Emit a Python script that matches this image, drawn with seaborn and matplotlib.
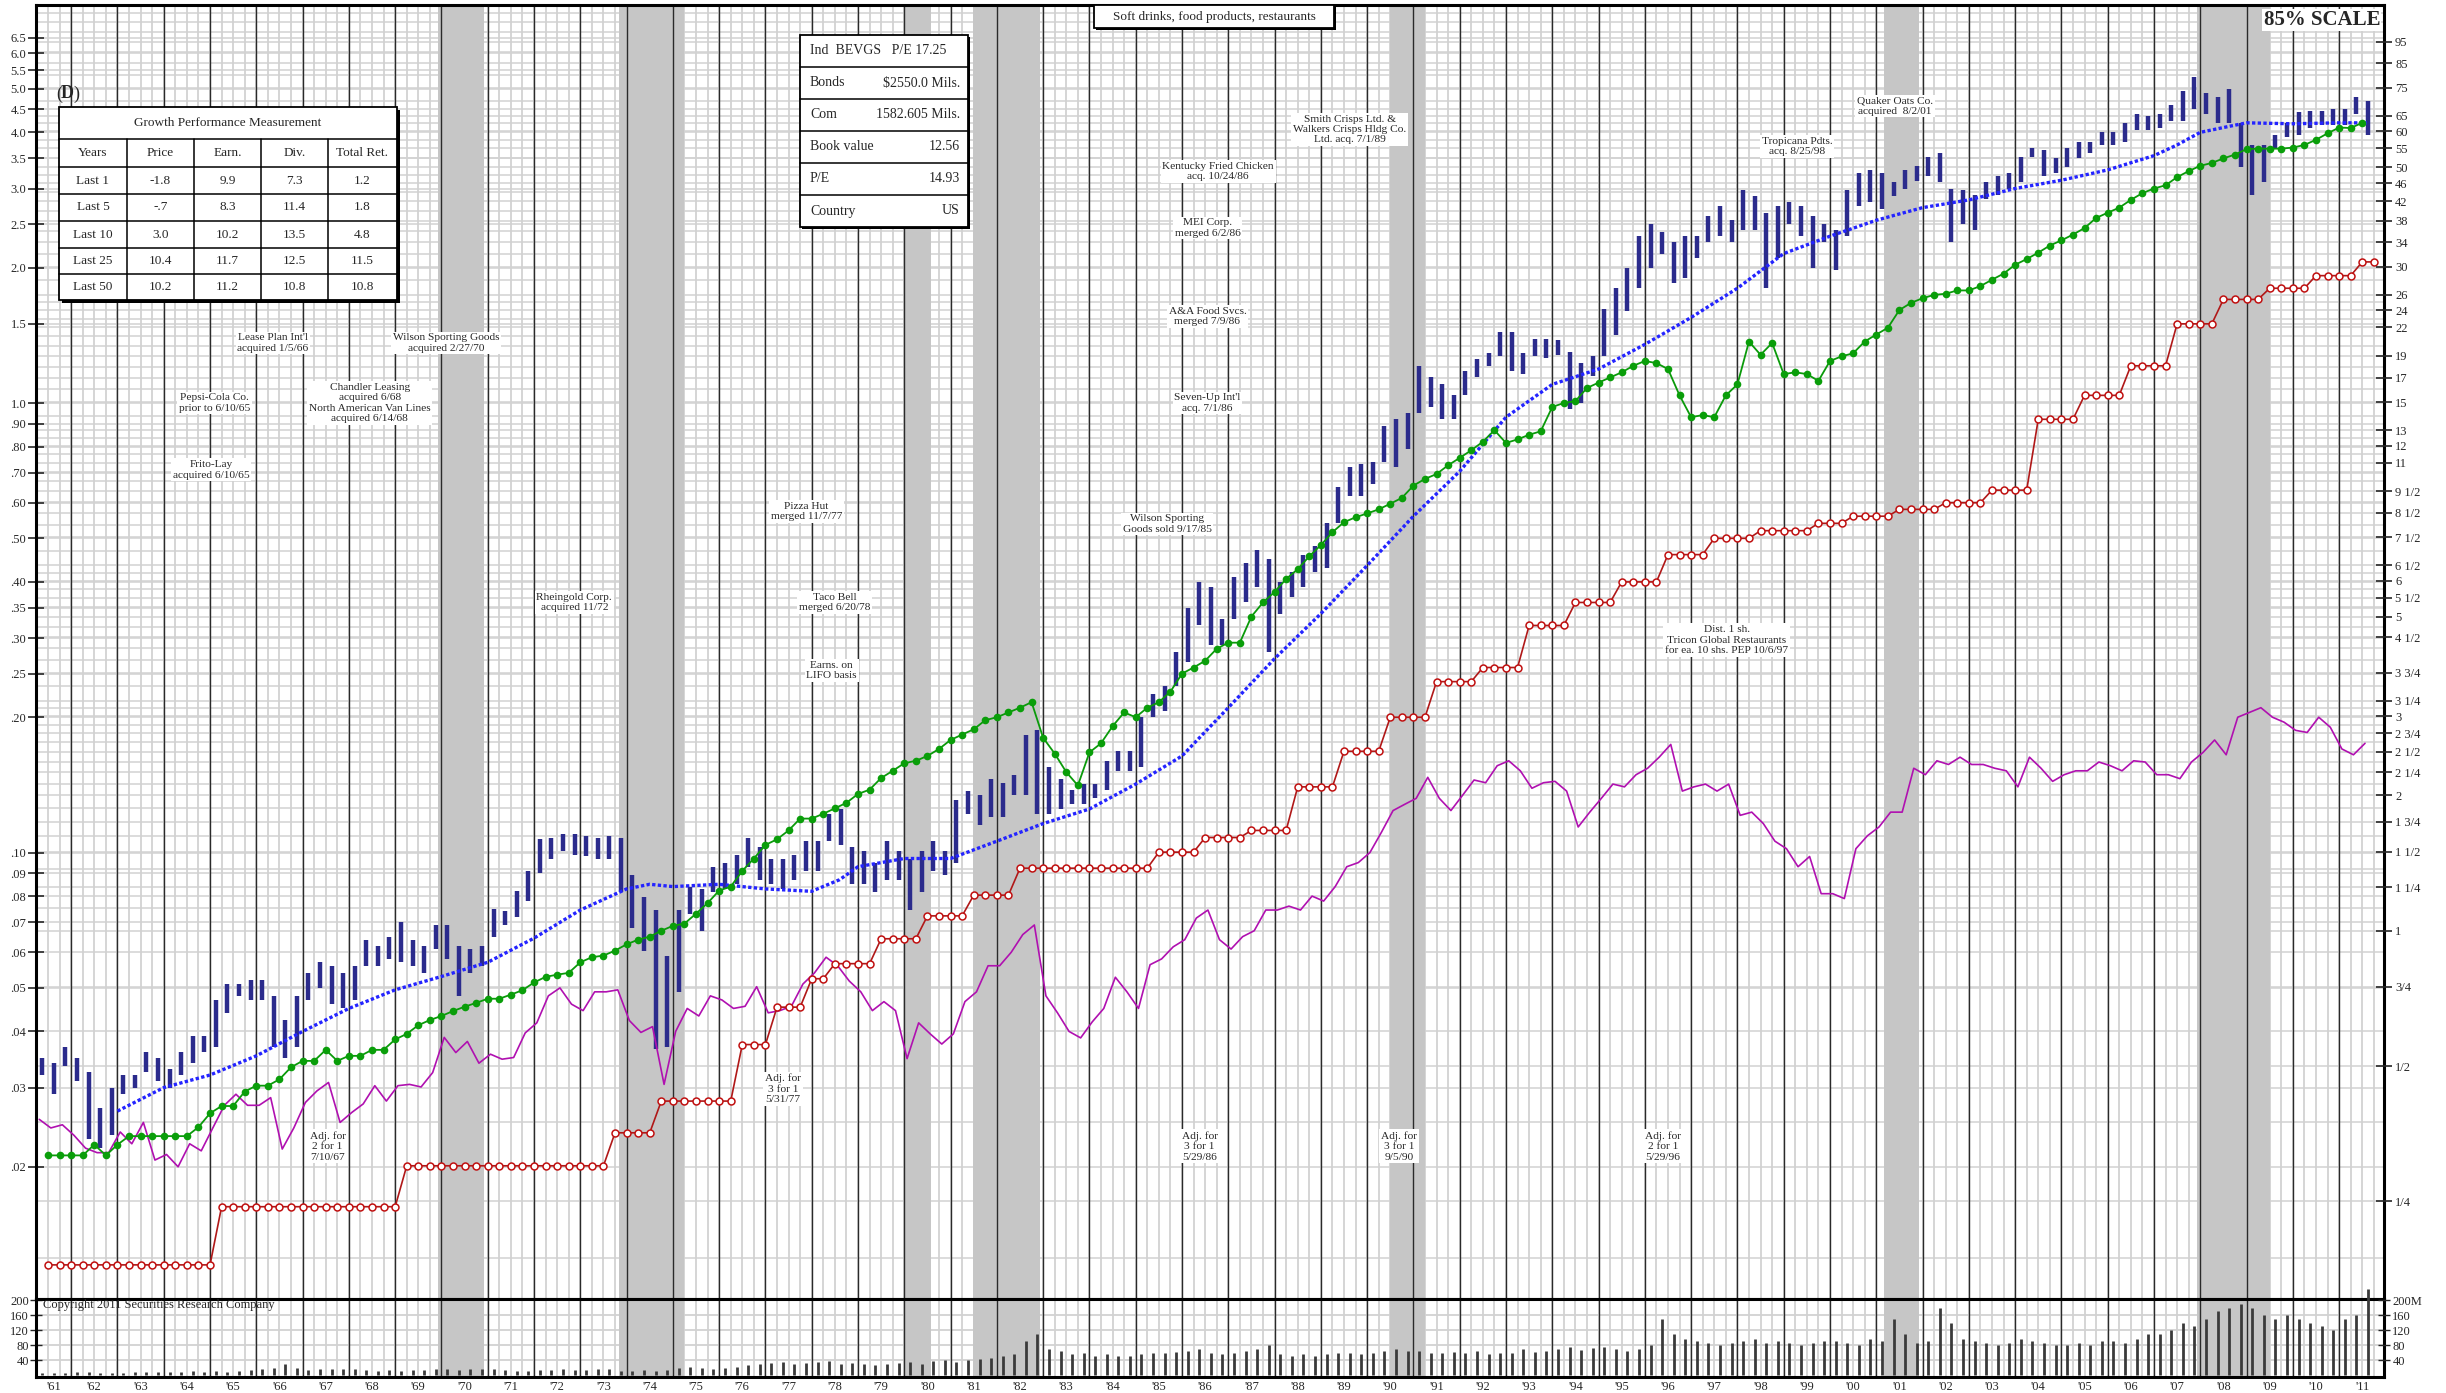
import numpy as np
import matplotlib
matplotlib.use("Agg")
import matplotlib.pyplot as plt
from matplotlib.patches import Rectangle
from matplotlib.ticker import FixedLocator, NullLocator
import seaborn as sns

sns.set_style("white")
plt.rcParams['font.family'] = ['Liberation Serif', 'DejaVu Serif']

PE = 14.93  # right scale = left scale * P/E

# quarterly price range, first quarter starts 1961.25
price_hi = [.035, .034, .037,
            .035, .0325, .027, .030, .032, .032, .036, .035, .033, .036, .039, .039,
            .047, .051, .051, .052, .052, .048, .0425, .048, .054, .057, .056, .054,
            .056, .064, .062, .065, .070, .064, .062, .069, .069, .062, .061, .062,
            .075, .074, .082, .091, .107, .108, .110, .110, .109, .108, .109, .108,
            .089, .0795, .0745, .059, .0745, .084, .083, .093, .095, .099, .108, .103,
            .097, .097, .099, .106, .106, .122, .125, .103, .101, .095, .106, .101,
            .097, .101, .106, .101, .131, .137, .134, .146, .143, .149, .183, .187,
            .155, .146, .138, .142, .142, .160, .168, .168, .200, .225, .235, .280,
            .350, .400, .390, .330, .410, .440, .470, .450, .400, .420, .460, .480,
            .540, .650, .720, .730, .740, .890, .920, .950, 1.21, 1.14, 1.10, 1.04,
            1.18, 1.25, 1.29, 1.44, 1.44, 1.29, 1.39, 1.39, 1.38, 1.30, 1.23, 1.27,
            1.62, 1.80, 2.00, 2.35, 2.50, 2.40, 2.28, 2.35, 2.35, 2.60, 2.75, 2.55,
            2.97, 2.88, 2.65, 2.75, 2.80, 2.75, 2.60, 2.50, 2.43, 2.97, 3.25, 3.30,
            3.25, 3.10, 3.30, 3.37, 3.53, 3.60, 3.00, 2.97, 2.90, 3.10, 3.20, 3.25,
            3.53, 3.70, 3.65, 3.50, 3.70, 3.80, 3.80, 4.00, 4.00, 4.20, 4.40, 4.35,
            4.40, 4.60, 4.95, 5.30, 4.90, 4.80, 5.00, 4.20, 3.75, 3.75, 3.95, 4.20,
            4.45, 4.47, 4.47, 4.50, 4.50, 4.80, 4.70]
price_lo = [.032, .029, .0335,
            .031, .023, .022, .0235, .029, .030, .0325, .031, .030, .032, .034, .036,
            .037, .044, .048, .047, .047, .037, .035, .037, .047, .050, .046, .045,
            .047, .056, .056, .058, .057, .056, .054, .061, .058, .048, .054, .056,
            .065, .069, .072, .078, .090, .097, .101, .099, .098, .097, .097, .0815,
            .068, .0605, .0366, .037, .049, .073, .067, .0815, .083, .085, .093, .087,
            .085, .083, .087, .091, .091, .106, .104, .085, .085, .0815, .087, .087,
            .0745, .0815, .091, .089, .095, .122, .115, .120, .120, .134, .134, .122,
            .122, .125, .128, .128, .132, .138, .152, .152, .155, .200, .206, .235,
            .265, .320, .290, .290, .330, .360, .390, .280, .340, .370, .390, .420,
            .430, .540, .620, .620, .660, .740, .720, .790, .95, .98, .92, .92,
            1.04, 1.14, 1.21, 1.27, 1.18, 1.16, 1.27, 1.26, 1.28, .97, 1.00, 1.15,
            1.27, 1.42, 1.60, 1.80, 2.00, 2.15, 1.85, 1.90, 2.10, 2.28, 2.35, 2.28,
            2.43, 2.43, 1.80, 2.10, 2.50, 2.35, 2.00, 2.28, 1.98, 2.35, 2.75, 2.80,
            2.70, 2.88, 3.00, 3.11, 3.20, 3.10, 2.28, 2.50, 2.43, 2.85, 2.90, 3.00,
            3.10, 3.53, 3.20, 3.25, 3.35, 3.50, 3.60, 3.75, 3.75, 3.80, 4.05, 4.05,
            4.10, 4.25, 4.25, 4.50, 4.40, 4.20, 4.20, 3.35, 2.90, 3.10, 3.70, 3.90,
            3.95, 4.10, 4.15, 4.15, 4.15, 4.40, 3.95]

# quarterly earnings (price scale), first point 1961.5
earnings = [.0212, .0212,
            .0212, .0212, .0224, .0212, .0224, .0234, .0234, .0234, .0234, .0234, .0234, .0245,
            .0263, .0273, .0273, .0294, .0303, .0303, .0313, .0333, .0344, .0344, .0364, .0344,
            .0353, .0353, .0364, .0364, .0384, .0395, .0413, .0424, .0433, .0444, .0454, .0463,
            .0473, .0473, .0483, .0494, .0514, .0529, .0535, .054, .057, .0585, .059, .0605,
            .0625, .064, .065, .067, .0687, .0695, .0731, .0772, .0823, .084, .091, .097,
            .104, .107, .112, .119, .119, .122, .1254, .129, .135, .138, .1465, .152,
            .158, .160, .164, .170, .178, .183, .188, .197, .200, .205, .210, .216,
            .180, .166, .151, .141, .167, .175, .191, .205, .200, .210, .216, .228,
            .250, .258, .267, .284, .293, .293, .335, .360, .380, .406, .427, .456,
            .483, .516, .543, .557, .568, .580, .597, .615, .655, .678, .695, .727,
            .755, .785, .820, .870, .815, .830, .850, .865, .98, 1.00, 1.01, 1.08,
            1.11, 1.14, 1.17, 1.21, 1.24, 1.227, 1.19, 1.04, .93, .94, .93, 1.04,
            1.10, 1.37, 1.28, 1.36, 1.16, 1.17, 1.16, 1.12, 1.24, 1.27, 1.29, 1.37,
            1.42, 1.47, 1.61, 1.67, 1.71, 1.74, 1.75, 1.78, 1.78, 1.82, 1.88, 1.94,
            2.03, 2.09, 2.16, 2.24, 2.30, 2.37, 2.45, 2.58, 2.65, 2.72, 2.83, 2.93,
            3.00, 3.05, 3.18, 3.28, 3.37, 3.42, 3.50, 3.57, 3.67, 3.68, 3.68, 3.68,
            3.70, 3.75, 3.85, 3.98, 4.10, 4.09, 4.20]

# quarterly dividends (price scale), first point 1961.5
dividends = [.0121, .0121,
             .0121, .0121, .0121, .0121, .0121, .0121, .0121, .0121, .0121, .0121, .0121, .0121,
             .0121, .0163, .0163, .0163, .0163, .0163, .0163, .0163, .0163, .0163, .0163, .0163,
             .0163, .0163, .0163, .0163, .0163, .0201, .0201, .0201, .0201, .0201, .0201, .0201,
             .0201, .0201, .0201, .0201, .0201, .0201, .0201, .0201, .0201, .0201, .0201, .0238,
             .0238, .0238, .0238, .028, .028, .028, .028, .028, .028, .028, .0374, .0374,
             .0374, .0453, .0453, .0453, .0524, .0524, .0566, .0566, .0566, .0566, .0643, .0643,
             .0643, .0643, .0723, .0723, .0723, .0723, .0804, .0804, .0804, .0804, .0923, .0923,
             .0923, .0923, .0923, .0923, .0923, .0923, .0923, .0923, .0923, .0923, .1002, .1002,
             .1002, .1002, .108, .108, .108, .108, .112, .112, .112, .112, .140, .140,
             .140, .140, .168, .168, .168, .168, .200, .200, .200, .200, .240, .240,
             .240, .240, .258, .258, .258, .258, .320, .320, .320, .320, .360, .360,
             .360, .360, .400, .400, .400, .400, .460, .460, .460, .460, .500, .500,
             .500, .500, .520, .520, .520, .520, .520, .540, .540, .540, .560, .560,
             .560, .560, .580, .580, .580, .580, .600, .600, .600, .600, .640, .640,
             .640, .640, .920, .920, .920, .920, 1.04, 1.04, 1.04, 1.04, 1.21, 1.21,
             1.21, 1.21, 1.50, 1.50, 1.50, 1.50, 1.70, 1.70, 1.70, 1.70, 1.80, 1.80,
             1.80, 1.80, 1.92, 1.92, 1.92, 1.92, 2.06, 2.06]

# relative strength line, quarterly from 1961.25
rel_strength = [.0255, .0244, .0248,
                .0235, .022, .0215, .0215, .0239, .0225, .0251, .0207, .0213, .0200, .0225, .0217,
                .0244, .0274, .029, .0274, .0274, .0285, .0219, .0244, .0278, .0295, .0308, .0251,
                .0264, .0276, .0303, .028, .0303, .0305, .0301, .0324, .0388, .0359, .038, .034,
                .0356, .0347, .035, .0397, .0418, .048, .050, .046, .0445, .049, .049, .0495,
                .0423, .0398, .041, .0305, .040, .045, .0433, .048, .047, .045, .0455, .0503,
                .044, .0445, .0455, .051, .054, .0585, .056, .0518, .049, .0445, .0466, .0445,
                .0348, .0418, .0395, .0375, .0395, .0466, .049, .056, .056, .060, .0657, .069,
                .048, .044, .040, .0387, .042, .045, .0528, .049, .045, .0563, .058, .0617,
                .064, .0715, .0745, .064, .061, .065, .067, .0745, .0745, .076, .0745, .080,
                .078, .084, .093, .095, .100, .111, .124, .128, .132, .147, .132, .124,
                .134, .145, .143, .156, .160, .152, .139, .143, .144, .137, .114, .123,
                .132, .142, .140, .149, .154, .163, .174, .137, .140, .142, .137, .142,
                .121, .123, .116, .106, .102, .093, .098, .081, .081, .079, .102, .109,
                .114, .123, .123, .154, .149, .160, .157, .163, .157, .157, .154, .152,
                .140, .163, .154, .144, .149, .152, .152, .159, .156, .152, .160, .159,
                .149, .149, .146, .159, .167, .178, .165, .200, .205, .210, .200, .195,
                .187, .185, .200, .190, .170, .165, .175]

# quarterly volume (millions), from 1961.25
volume = [5, 6, 6,
          8, 7, 6, 6, 6, 7, 7, 8, 8, 9, 10, 9, 10, 9, 12, 14, 16, 18, 30, 20,
          14, 15, 16, 15, 15, 14, 12, 13, 12, 13, 14, 15, 16, 14, 15, 16,
          15, 14, 12, 12, 13, 14, 15, 14, 14, 16, 15, 12, 12, 13, 12, 14,
          20, 22, 18, 16, 20, 22, 28, 30, 32, 35, 30, 32, 35, 38, 30, 32,
          30, 28, 30, 32, 35, 30, 38, 40, 35, 40, 42, 45, 50, 55, 90, 110,
          70, 65, 55, 60, 50, 55, 50, 52, 55, 60, 58, 62, 65, 70, 60, 55,
          60, 65, 70, 80, 55, 50, 55, 52, 55, 60, 58, 55, 60, 65, 70, 65,
          65, 60, 58, 62, 60, 65, 55, 58, 60, 70, 62, 65, 70, 75, 68, 72,
          75, 70, 65, 70, 80, 150, 110, 95, 90, 85, 80, 85, 90, 95, 85, 90,
          85, 80, 85, 90, 90, 85, 80, 95, 90, 150, 110, 85, 90, 180, 140, 95,
          90, 85, 80, 85, 95, 90, 85, 80, 80, 85, 80, 90, 90, 85, 95, 110,
          110, 120, 140, 130, 150, 170, 180, 190, 180, 160, 150, 160, 150, 140, 130, 120,
          150, 160, 230]

# moving average line
ma_x = [1963.0, 1964.0, 1965.0, 1966.0, 1967.0, 1968.0, 1969.0, 1970.0, 1971.0, 1972.0,
        1973.0, 1974.0, 1974.5, 1975.0, 1976.0, 1977.0, 1978.0, 1978.6, 1979.0, 1980.0,
        1981.0, 1982.0, 1983.0, 1984.0, 1985.0, 1986.0, 1987.0, 1988.0, 1989.0, 1990.0,
        1991.0, 1992.0, 1993.0, 1994.0, 1995.0, 1996.0, 1997.0, 1998.0, 1999.0, 2000.0,
        2001.0, 2002.0, 2003.0, 2004.0, 2005.0, 2006.0, 2007.0, 2007.5, 2008.0, 2008.5,
        2009.0, 2010.0, 2011.0, 2011.6]
ma_val = [.0266, .030, .032, .0353, .040, .045, .0495, .053, .057, .0645,
          .0745, .083, .085, .084, .085, .083, .082, .087, .093, .097,
          .097, .106, .116, .125, .142, .164, .21, .27, .34, .435,
          .56, .705, .93, 1.10, 1.19, 1.35, 1.55, 1.80, 2.15, 2.35,
          2.55, 2.72, 2.83, 3.00, 3.13, 3.30, 3.55, 3.75, 4.00, 4.10,
          4.20, 4.18, 4.20, 4.20]

recessions = [(1969.92, 1970.93), (1973.84, 1975.24), (1979.99, 1980.58),
              (1981.49, 1982.93), (1990.49, 1991.26), (2001.17, 2001.93),
              (2007.92, 2009.51)]

left_ticks = [6.5, 6.0, 5.5, 5.0, 4.5, 4.0, 3.5, 3.0, 2.5, 2.0, 1.5, 1.0, .9, .8, .7,
              .6, .5, .4, .35, .3, .25, .2, .1, .09, .08, .07, .06, .05, .04, .03, .02]
left_labels = ['6.5', '6.0', '5.5', '5.0', '4.5', '4.0', '3.5', '3.0', '2.5', '2.0',
               '1.5', '1.0', '.90', '.80', '.70', '.60', '.50', '.40', '.35', '.30',
               '.25', '.20', '.10', '.09', '.08', '.07', '.06', '.05', '.04', '.03', '.02']
right_ticks = [95, 85, 75, 65, 60, 55, 50, 46, 42, 38, 34, 30, 26, 24, 22, 19, 17, 15,
               13, 12, 11, 9.5, 8.5, 7.5, 6.5, 6, 5.5, 5, 4.5, 3.75, 3.25, 3, 2.75, 2.5,
               2.25, 2, 1.75, 1.5, 1.25, 1, 0.75, 0.5, 0.25]
right_labels = ['95', '85', '75', '65', '60', '55', '50', '46', '42', '38', '34', '30',
                '26', '24', '22', '19', '17', '15', '13', '12', '11', '9 1/2', '8 1/2',
                '7 1/2', '6 1/2', '6', '5 1/2', '5', '4 1/2', '3 3/4', '3 1/4', '3',
                '2 3/4', '2 1/2', '2 1/4', '2', '1 3/4', '1 1/2', '1 1/4', '1', '3/4',
                '1/2', '1/4']
grid_right = [0.1875, 0.25, 0.375, 0.5, 0.75, 1, 1.125, 1.25, 1.375, 1.5, 1.625, 1.75,
              1.875, 2, 2.125, 2.25, 2.375, 2.5, 2.625, 2.75, 2.875, 3, 3.125, 3.25,
              3.5, 3.75, 4, 4.25, 4.5, 4.75, 5, 5.25, 5.5, 5.75, 6, 6.25, 6.5, 7, 7.5,
              8, 8.5, 9, 9.5, 10, 10.5, 11, 11.5, 12, 12.5, 13, 14, 15, 16, 17, 18, 19,
              20, 21, 22, 23, 24, 25, 26, 28, 30, 32, 34, 36, 38, 40, 42, 44, 46, 48, 50,
              52.5, 55, 57.5, 60, 62.5, 65, 70, 75, 80, 85, 90, 95, 100, 105, 110]

notes = [
    ("Lease Plan Int'l\nacquired 1/5/66", 1966.36, 1.36),
    ("Pepsi-Cola Co.\nprior to 6/10/65", 1965.09, 1.0),
    ("Frito-Lay\nacquired 6/10/65", 1965.02, 0.71),
    ("Chandler Leasing\nacquired 6/68\nNorth American Van Lines\nacquired 6/14/68", 1968.45, 1.0),
    ("Wilson Sporting Goods\nacquired 2/27/70", 1970.1, 1.36),
    ("Rheingold Corp.\nacquired 11/72", 1972.87, 0.36),
    ("Pizza Hut\nmerged 11/7/77", 1977.89, 0.573),
    ("Taco Bell\nmerged 6/20/78", 1978.5, 0.36),
    ("Earns. on\nLIFO basis", 1978.43, 0.254),
    ("Adj. for\n2 for 1\n7/10/67", 1967.54, 0.0222),
    ("Adj. for\n3 for 1\n5/31/77", 1977.38, 0.0298),
    ("Wilson Sporting\nGoods sold 9/17/85", 1985.68, 0.538),
    ("Seven-Up Int'l\nacq. 7/1/86", 1986.55, 1.0),
    ("A&A Food Svcs.\nmerged 7/9/86", 1986.55, 1.556),
    ("MEI Corp.\nmerged 6/2/86", 1986.55, 2.45),
    ("Kentucky Fried Chicken\nacq. 10/24/86", 1986.78, 3.27),
    ("Smith Crisps Ltd. &\nWalkers Crisps Hldg Co.\nLtd. acq. 7/1/89", 1989.62, 4.06),
    ("Adj. for\n3 for 1\n5/29/86", 1986.38, 0.0222),
    ("Adj. for\n3 for 1\n9/5/90", 1990.69, 0.0222),
    ("Adj. for\n2 for 1\n5/29/96", 1996.39, 0.0222),
    ("Dist. 1 sh.\nTricon Global Restaurants\nfor ea. 10 shs. PEP 10/6/97", 1997.77, 0.297),
    ("Tropicana Pdts.\nacq. 8/25/98", 1999.29, 3.72),
    ("Quaker Oats Co.\nacquired  8/2/01", 2001.41, 4.58),
]

growth_head = ["Years", "Price", "Earn.", "Div.", "Total Ret."]
growth_rows = [["Last 1", "-1.8", "9.9", "7.3", "1.2"],
               ["Last 5", "-.7", "8.3", "11.4", "1.8"],
               ["Last 10", "3.0", "10.2", "13.5", "4.8"],
               ["Last 25", "10.4", "11.7", "12.5", "11.5"],
               ["Last 50", "10.2", "11.2", "10.8", "10.8"]]
info_rows = [("Ind  BEVGS   P/E 17.25", ""), ("Bonds", "$2550.0 Mils."),
             ("Com", "1582.605 Mils."), ("Book value", "12.56"),
             ("P/E", "14.93"), ("Country", "US")]

# ---------------------------------------------------------------- layout
W, H = 2446, 1393
fig = plt.figure(figsize=(W / 100, H / 100), dpi=100)
XL = (1961.24, 2011.97)
YL = (0.01016, 7.68)
ax = fig.add_axes([36 / W, 1 - 1299 / H, (2384 - 36) / W, (1299 - 5) / H])
axv = fig.add_axes([36 / W, 1 - 1377 / H, (2384 - 36) / W, (1377 - 1299) / H])

ax.set_yscale('log')
ax.set_xlim(*XL)
ax.set_ylim(*YL)
axv.set_xlim(*XL)
axv.set_ylim(-5.3, 202.7)

light = '#d2d2d2'
band = '#c6c6c6'
years = np.arange(1962, 2012)
quarters = np.arange(1961.5, 2012, 0.25)

for a in (ax, axv):
    for q in quarters:
        a.axvline(q, color=light, lw=1.3, zorder=0.5)
for v in grid_right:
    ax.axhline(v / PE, color=light, lw=1.1, zorder=0.5)
for v in left_ticks:
    ax.axhline(v, color=light, lw=1.1, zorder=0.5)
for v in (40, 80, 120, 160):
    axv.axhline(v, color=light, lw=1.3, zorder=0.5)
for a in (ax, axv):
    for s, e in recessions:
        a.axvspan(s, e, color=band, lw=0, zorder=0.8)
    for y in years:
        a.axvline(y, color='#2a2a2a', lw=1.0, zorder=0.9)

# price bars
qx = 1961.25 + 0.25 * np.arange(len(price_hi)) + 0.125
ax.vlines(qx, price_lo, price_hi, color='#2b2b8c', lw=3.2, zorder=3)

# moving average
sns.lineplot(x=ma_x, y=ma_val, ax=ax, color='#2424ff', lw=2.4,
             linestyle=(0, (1.0, 0.7)), estimator=None, sort=False, zorder=4)

# earnings
ex = 1961.5 + 0.25 * np.arange(len(earnings))
sns.lineplot(x=ex, y=earnings, ax=ax, color='#0a9a0a', lw=1.3, marker='o',
             markersize=5.5, markeredgewidth=0, markerfacecolor='#0a9e0a',
             estimator=None, sort=False, zorder=5)

# dividends
dx = 1961.5 + 0.25 * np.arange(len(dividends))
sns.lineplot(x=dx, y=dividends, ax=ax, color='#b01818', lw=1.2, marker='o',
             markersize=5.0, markerfacecolor='white', markeredgecolor='#c01010',
             markeredgewidth=1.1, estimator=None, sort=False, zorder=5)

# relative strength
rx = 1961.25 + 0.25 * np.arange(len(rel_strength)) + 0.06
sns.lineplot(x=rx, y=rel_strength, ax=ax, color='#b010b0', lw=1.2,
             estimator=None, sort=False, zorder=4)

# volume
vx = 1961.25 + 0.25 * np.arange(len(volume)) + 0.125
axv.vlines(vx, 0, volume, color='#3a3a3a', lw=2.0, zorder=3, clip_on=False)

# ---------------------------------------------------------------- axes dressing
for a in (ax, axv):
    a.set_xlabel('')
    a.set_ylabel('')
    for sp in a.spines.values():
        sp.set_color('black')
        sp.set_linewidth(2.2)
ax.set_xticks([])
ax.yaxis.set_major_locator(FixedLocator(left_ticks))
ax.yaxis.set_minor_locator(NullLocator())
ax.set_yticklabels(left_labels)
ax.tick_params(axis='y', which='major', left=True, direction='inout', length=12,
               width=1.2, labelsize=9, pad=1)

axr = ax.twinx()
axr.set_yscale('log')
axr.set_ylim(YL[0] * PE, YL[1] * PE)
axr.yaxis.set_major_locator(FixedLocator(right_ticks))
axr.yaxis.set_minor_locator(NullLocator())
axr.set_yticklabels(right_labels)
axr.tick_params(axis='y', which='major', right=True, direction='inout', length=12,
                width=1.2, labelsize=9, pad=2)
for sp in axr.spines.values():
    sp.set_visible(False)

axv.set_yticks([40, 80, 120, 160, 200])
axv.set_yticklabels(['40', '80', '120', '160', '200'])
axv.tick_params(axis='y', left=True, direction='inout', length=8, width=1.0,
                labelsize=9, pad=1)
axvr = axv.twinx()
axvr.set_ylim(axv.get_ylim())
axvr.set_yticks([40, 80, 120, 160, 200])
axvr.set_yticklabels(['40', '80', '120', '160', '200M'])
axvr.tick_params(axis='y', right=True, direction='inout', length=8, width=1.0,
                 labelsize=9, pad=2)
for sp in axvr.spines.values():
    sp.set_visible(False)

lab_x = [1961.62] + [y + 0.5 for y in years]
lab_t = ["'" + str(y)[-2:] for y in range(1961, 2012)]
axv.set_xticks(lab_x)
axv.set_xticklabels(lab_t)
axv.tick_params(axis='x', bottom=True, length=0, labelsize=9, pad=3)

axv.text(1961.4, 188, "Copyright 2011 Securities Research Company", fontsize=9,
         va='center', ha='left', zorder=6)

for txt, x, y in notes:
    ax.text(x, y, txt, fontsize=8.2, ha='center', va='center', linespacing=1.2,
            zorder=6, bbox=dict(fc='white', ec='none', pad=1.2))

# ---------------------------------------------------------------- boxes (pixel space)
ov = fig.add_axes([0, 0, 1, 1])
ov.set_xlim(0, W)
ov.set_ylim(H, 0)
ov.axis('off')
ov.patch.set_alpha(0)


def box(x0, y0, x1, y1, shadow=3):
    ov.add_patch(Rectangle((x0 + shadow, y0 + shadow), x1 - x0, y1 - y0,
                           fc='black', ec='none', zorder=7))
    ov.add_patch(Rectangle((x0, y0), x1 - x0, y1 - y0, fc='white', ec='black',
                           lw=1.3, zorder=8))


# growth table
gx = [59, 127, 194, 261, 328, 397]
gy = [107, 139, 167, 194, 221, 248, 274, 300]
box(gx[0], gy[0], gx[-1], gy[-1])
for y in gy[1:-1]:
    ov.plot([gx[0], gx[-1]], [y, y], color='black', lw=1.1, zorder=9)
for x in gx[1:-1]:
    ov.plot([x, x], [gy[1], gy[-1]], color='black', lw=1.1, zorder=9)
ov.text((gx[0] + gx[-1]) / 2, (gy[0] + gy[1]) / 2, "Growth Performance Measurement",
        ha='center', va='center', fontsize=9.5, zorder=10)
for j, h in enumerate(growth_head):
    ov.text((gx[j] + gx[j + 1]) / 2, (gy[1] + gy[2]) / 2, h, ha='center',
            va='center', fontsize=9.5, zorder=10)
for i, row in enumerate(growth_rows):
    for j, c in enumerate(row):
        ov.text((gx[j] + gx[j + 1]) / 2, (gy[i + 2] + gy[i + 3]) / 2, c,
                ha='center', va='center', fontsize=9.5, zorder=10)

ov.text(56, 94, "(", ha='left', va='center', fontsize=13, zorder=10)
ov.text(61, 94, "D", ha='left', va='center', fontsize=13, fontweight='bold', zorder=10)
ov.text(73, 94, ")", ha='left', va='center', fontsize=13, zorder=10)

# info box
iy = [35, 67, 99, 131, 163, 195, 227]
box(800, iy[0], 968, iy[-1], shadow=2)
for y in iy[1:-1]:
    ov.plot([800, 968], [y, y], color='black', lw=1.1, zorder=9)
for i, (l, r) in enumerate(info_rows):
    yc = (iy[i] + iy[i + 1]) / 2
    ov.text(810, yc, l, ha='left', va='center', fontsize=10, zorder=10)
    if r:
        ov.text(960, yc, r, ha='right', va='center', fontsize=10, zorder=10)

# industry box
box(1094, 5, 1334, 28, shadow=2)
ov.text(1214, 17, "Soft drinks, food products, restaurants", ha='center',
        va='center', fontsize=9.5, zorder=10)

ov.text(2380, 20, "85% SCALE", ha='right', va='center', fontsize=15,
        fontweight='bold', zorder=10,
        bbox=dict(fc='white', ec='none', pad=1))

fig.savefig("out.png", dpi=100)
